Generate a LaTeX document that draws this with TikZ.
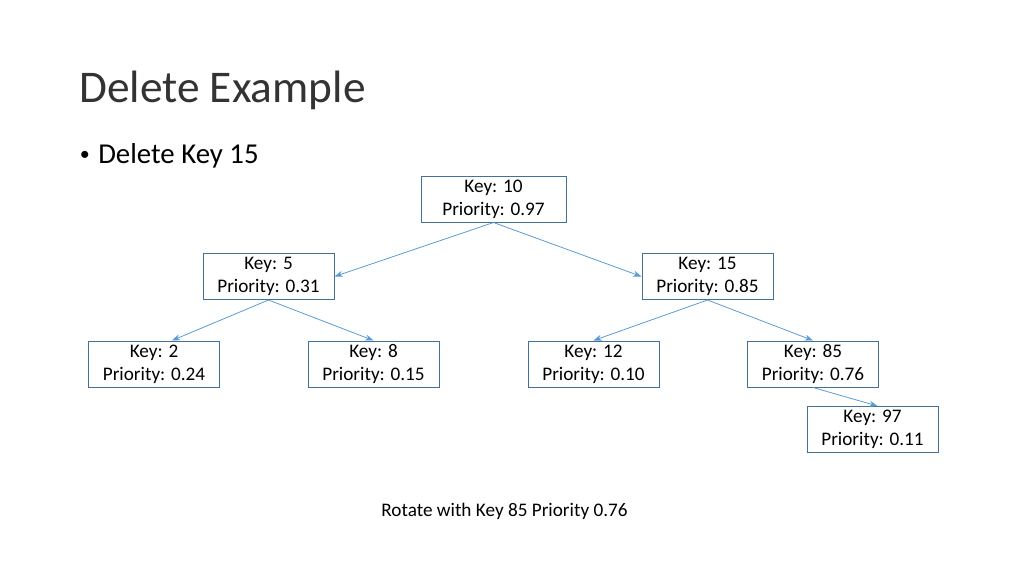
\documentclass[tikz,border=0pt]{standalone}
\usepackage{fontspec}
\setmainfont{Carlito}
\usetikzlibrary{arrows.meta,positioning,calc}

\definecolor{boxline}{RGB}{65,113,156}
\definecolor{edgeline}{RGB}{91,155,213}

\begin{document}
\begin{tikzpicture}[
  x=0.75pt, y=-0.75pt,
  treenode/.style={
    draw=boxline,
    line width=0.75pt,
    align=center,
    minimum width=98.25pt,
    minimum height=34.5pt,
    inner sep=2pt,
    font=\fontsize{14.4}{17.25}\selectfont
  },
  rootnode/.style={
    treenode,
    minimum width=108.75pt
  },
  child/.style={
    -{Stealth[length=2.2mm,width=1.6mm]},
    draw=edgeline,
    line width=0.6pt
  },
  slidetext/.style={
    anchor=base west,
    inner sep=0pt
  }
]

\useasboundingbox (0,0) rectangle (1024,576);

% Slide texts
\node[slidetext, text=black!80, font=\fontsize{34}{40}\selectfont] (title) at (79,102) {Delete Example};
\node[slidetext, font=\fontsize{15}{18}\selectfont] (bullet) at (79.5,160) {•};
\node[slidetext, font=\fontsize{21.6}{26}\selectfont] (task) at (98,163) {Delete Key 15};
\node[anchor=base, inner sep=0pt, font=\fontsize{14.4}{17.25}\selectfont] (note) at (504.5,516) {Rotate with Key 85 Priority 0.76};

% Tree nodes
\node[rootnode] (k10) at (493.5,199) {Key: 10\\Priority: 0.97};
\node[treenode] (k5)  at (268.5,276.5) {Key: 5\\Priority: 0.31};
\node[treenode] (k15) at (707.5,276.5) {Key: 15\\Priority: 0.85};
\node[treenode] (k2)  at (154,364) {Key: 2\\Priority: 0.24};
\node[treenode] (k8)  at (373.5,364) {Key: 8\\Priority: 0.15};
\node[treenode] (k12) at (593.5,364) {Key: 12\\Priority: 0.10};
\node[treenode] (k85) at (813,364) {Key: 85\\Priority: 0.76};
\node[treenode] (k97) at (872.5,429.5) {Key: 97\\Priority: 0.11};

% Edges
\draw[child] (k10.south) -- (k5.east);
\draw[child] (k10.south) -- (k15.west);
\draw[child] (k5.south) -- ($(k2.north)+(18,0)$);
\draw[child] (k5.south) -- (k8.north);
\draw[child] (k15.south) -- (k12.north);
\draw[child] (k15.south) -- (k85.north);
\draw[child] (k85.south) -- ($(k97.north)+(5,0)$);

\end{tikzpicture}
\end{document}
